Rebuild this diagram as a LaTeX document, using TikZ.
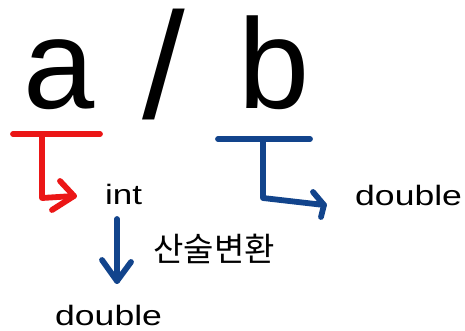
\documentclass[tikz,border=0pt]{standalone}
\usepackage{fontspec}
\usepackage{graphicx}
\setmainfont{Liberation Sans}
\newfontfamily\krfont{Noto Sans CJK KR}
\definecolor{arrred}{RGB}{235,22,22}
\definecolor{arrblue}{RGB}{18,68,140}
\begin{document}
\begin{tikzpicture}[x=1pt,y=-1pt,
  big/.style={inner sep=0pt,font=\fontsize{128}{128}\selectfont},
  small/.style={inner sep=0pt,font=\fontsize{28}{28}\selectfont},
  kor/.style={inner sep=0pt,font=\krfont\fontsize{33}{33}\selectfont},
  stroke/.style={line width=5.8pt,line cap=round,line join=round},
  redline/.style={stroke,draw=arrred},
  blueline/.style={stroke,draw=arrblue}]
\useasboundingbox[fill=white] (0,0) rectangle (465,331);
% big expression
\node[big,anchor=base west] (a) at (23,109) {a};
\node[big,anchor=south west] (slash) at (142,120) {\scalebox{1.2}[1.18]{/}};
\node[big,anchor=base west] (b) at (238,109) {b};
% labels
\node[small,anchor=base west] (int) at (105,204) {\scalebox{1.25}[1]{int}};
\node[small,anchor=base west] (dblb) at (355,205) {\scalebox{1.27}[1]{double}};
\node[small,anchor=base west] (dbla) at (55,325) {\scalebox{1.27}[1]{double}};
\node[kor] (conv) at (214,249) {산술변환};
% red arrow (under a)
\coordinate (ra1) at (13,134);
\coordinate (ra2) at (100,134);
\coordinate (ra3) at (42,134);
\coordinate (ra4) at (42,198);
\coordinate (ratip) at (74,196);
\draw[redline] (ra1) -- (ra2);
\draw[redline] (ra3) -- (ra4) -- (ratip);
\draw[redline] (60,181) -- (ratip) -- (52,210);
% blue arrow (under b)
\coordinate (ba1) at (218,139);
\coordinate (ba2) at (310,139);
\coordinate (ba3) at (263,139);
\coordinate (ba4) at (263,198);
\coordinate (batip) at (324,205);
\draw[blueline] (ba1) -- (ba2);
\draw[blueline] (ba3) -- (ba4) -- (batip);
\draw[blueline] (313,192) -- (batip) -- (321,217);
% blue down arrow (int -> double)
\coordinate (da1) at (117,219);
\coordinate (datip) at (117,281);
\draw[blueline] (da1) -- (datip);
\draw[blueline] (102,260) -- (datip) -- (131,262);
\end{tikzpicture}
\end{document}
